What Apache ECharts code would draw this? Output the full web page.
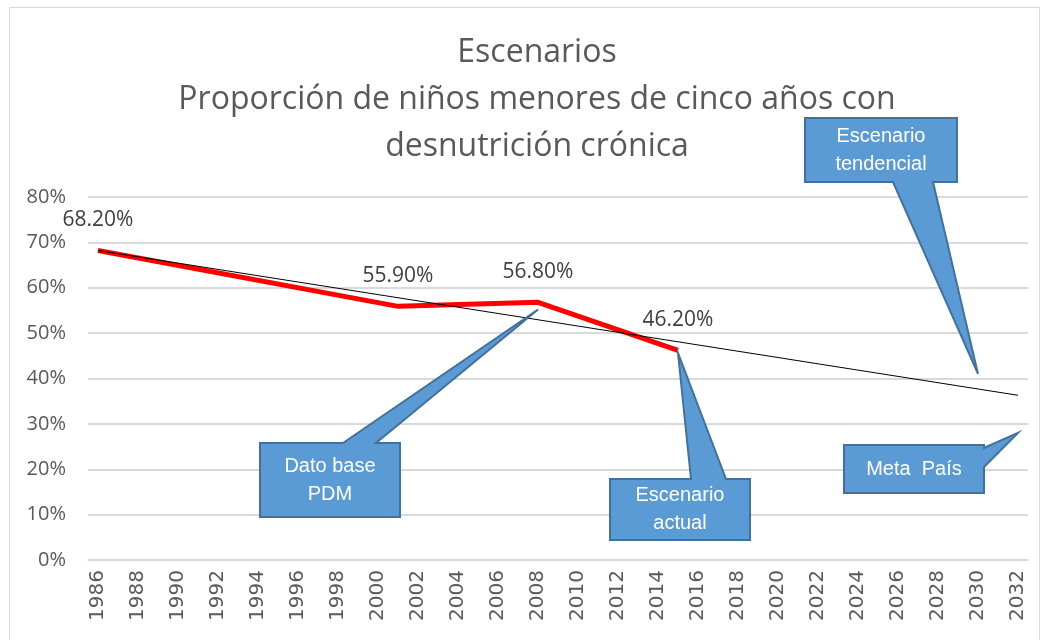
<!DOCTYPE html>
<html>
<head>
<meta charset="utf-8">
<script src="https://cdn.jsdelivr.net/npm/echarts@6/dist/echarts.min.js"></script>
<style>
  html, body { margin: 0; padding: 0; background: #fff; }
  #chart { width: 1050px; height: 640px; }
</style>
</head>
<body>
<div id="chart"></div>
<script>
// Data
const actualYears = ['1986', '2001', '2008', '2015'];
const actualValues = [68.2, 55.9, 56.8, 46.2];
const trendYears = ['1986', '2032'];
const trendValues = [68.2, 36.3];
const yTicks = [0, 10, 20, 30, 40, 50, 60, 70, 80];

// every year on the axis, labels shown every second one
const categories = [];
for (let y = 1986; y <= 2032; y++) categories.push(String(y));

// callouts: label, box (pixels), side of pointer, pointer base, tip in data units
const callouts = [
    { text: 'Escenario\ntendencial', box: [805, 118, 152, 64], side: 'bottom', base: [893, 933], tip: [2029.5, 41] },
    { text: 'Dato base\nPDM', box: [260, 443, 140, 74], side: 'top', base: [343, 376], tip: [2008, 55.2] },
    { text: 'Escenario\nactual', box: [610, 479, 140, 61], side: 'top', base: [691, 726], tip: [2015.2, 45.6] },
    { text: 'Meta  País', box: [844, 445, 140, 48], side: 'right', base: [448, 467], tip: [2031.6, 28] }
];

const chart = echarts.init(document.getElementById('chart'));

const labelFmt = p => {
    const v = Array.isArray(p.data) ? p.data[1] : p.value;
    return Number(v).toFixed(2) + '%';
};

const option = {
    backgroundColor: '#fff',
    animation: false,
    title: {
        text: 'Escenarios\nProporción de niños menores de cinco años con\ndesnutrición crónica',
        left: 532,
        textAlign: 'center',
        top: 24,
        textStyle: {
            fontFamily: 'Open Sans',
            fontWeight: 'normal',
            fontSize: 32,
            lineHeight: 47,
            color: '#595959'
        }
    },
    grid: {
        left: 88,
        right: 22,
        top: 197,
        bottom: 80
    },
    xAxis: {
        type: 'category',
        data: categories,
        boundaryGap: true,
        axisLine: { lineStyle: { color: '#d9d9d9' } },
        axisTick: { show: false },
        axisLabel: {
            interval: 1,
            rotate: 90,
            margin: 10,
            fontFamily: 'DejaVu Sans',
            fontSize: 20,
            color: '#595959'
        }
    },
    yAxis: {
        type: 'value',
        min: yTicks[0],
        max: yTicks[yTicks.length - 1],
        interval: 10,
        axisLine: { show: false },
        axisTick: { show: false },
        axisLabel: {
            formatter: '{value}%',
            margin: 22,
            fontFamily: 'Open Sans',
            fontSize: 20,
            color: '#595959'
        },
        splitLine: { lineStyle: { color: '#d9d9d9', width: 2 } }
    },
    series: [
        {
            name: 'Escenario actual',
            type: 'line',
            data: actualYears.map((y, i) => [y, actualValues[i]]),
            symbol: 'circle',
            symbolSize: 2,
            showSymbol: true,
            itemStyle: { color: 'rgba(255,0,0,0)' },
            lineStyle: { color: '#ff0000', width: 5 },
            label: {
                show: true,
                position: 'top',
                distance: 19,
                formatter: labelFmt,
                fontFamily: 'Open Sans',
                fontSize: 21,
                color: '#404040'
            },
            z: 2
        },
        {
            name: 'Tendencia',
            type: 'line',
            data: trendYears.map((y, i) => [y, trendValues[i]]),
            symbol: 'none',
            lineStyle: { color: '#000', width: 1 },
            z: 3
        }
    ]
};

chart.setOption(option);

// build a callout shape (box + pointer) as one polygon
function calloutPoints(c, tip) {
    const [x, y, w, h] = c.box;
    const [a, b] = c.base;
    if (c.side === 'top') {
        return [[x, y], [a, y], tip, [b, y], [x + w, y], [x + w, y + h], [x, y + h]];
    }
    if (c.side === 'bottom') {
        return [[x, y], [x + w, y], [x + w, y + h], [b, y + h], tip, [a, y + h], [x, y + h]];
    }
    return [[x, y], [x + w, y], [x + w, a], tip, [x + w, b], [x + w, y + h], [x, y + h]];
}

const graphics = [
    {
        type: 'rect',
        shape: { x: 9.5, y: 7.5, width: 1030, height: 640 },
        style: { fill: 'none', stroke: '#d9d9d9', lineWidth: 1 },
        silent: true
    }
];

callouts.forEach(c => {
    const tip = chart.convertToPixel({ gridIndex: 0 }, [Number(c.tip[0]) - 1986, c.tip[1]]);
    graphics.push({
        type: 'polygon',
        shape: { points: calloutPoints(c, tip) },
        style: { fill: '#5b9bd5', stroke: '#41719c', lineWidth: 2 },
        z: 10
    });
    graphics.push({
        type: 'text',
        x: c.box[0] + c.box[2] / 2,
        y: c.box[1] + c.box[3] / 2,
        style: {
            text: c.text,
            fill: '#fff',
            font: '20px "Liberation Sans", Arial',
            align: 'center',
            verticalAlign: 'middle',
            lineHeight: 28
        },
        z: 11
    });
});

chart.setOption({ graphic: graphics });

window.addEventListener('resize', () => chart.resize());
</script>
</body>
</html>
